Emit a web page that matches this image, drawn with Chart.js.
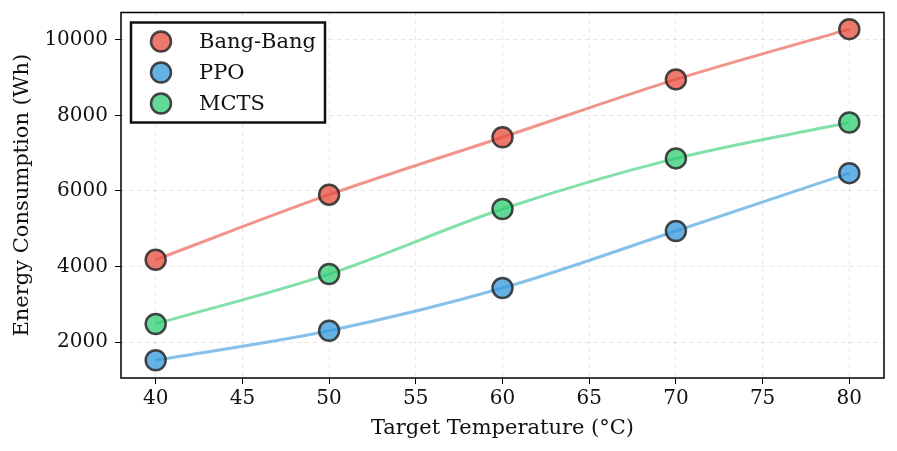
<!DOCTYPE html>
<html>
<head>
<meta charset="utf-8">
<script src="https://cdn.jsdelivr.net/npm/chart.js@4/dist/chart.umd.min.js"></script>
<style>
  html, body { margin: 0; padding: 0; background: #fff; }
  #wrap { width: 897px; height: 451px; }
</style>
</head>
<body>
<div id="wrap"><canvas id="myChart" width="897" height="451"></canvas></div>
<script>
// data
const temps = [40, 50, 60, 70, 80];
const bangBang = [4180, 5900, 7420, 8950, 10280];
const ppo = [1520, 2300, 3430, 4940, 6470];
const mcts = [2480, 3800, 5520, 6860, 7810];
const xTicks = [40, 45, 50, 55, 60, 65, 70, 75, 80];
const yTicks = [2000, 4000, 6000, 8000, 10000];

const FONT = "'DejaVu Serif', serif";

const seriesList = [
    { label: 'Bang-Bang', values: bangBang, rgb: '231, 76, 60' },
    { label: 'PPO', values: ppo, rgb: '52, 152, 219' },
    { label: 'MCTS', values: mcts, rgb: '46, 204, 113' }
];

const datasets = seriesList.map(s => ({
    label: s.label,
    data: temps.map((t, i) => ({ x: t, y: s.values[i] })),
    borderColor: 'rgba(' + s.rgb + ', 0.6)',
    borderWidth: 3,
    cubicInterpolationMode: 'monotone',
    pointRadius: 10,
    pointHoverRadius: 10,
    pointBackgroundColor: 'rgba(' + s.rgb + ', 0.75)',
    pointBorderColor: 'rgba(40, 40, 40, 0.85)',
    pointBorderWidth: 2.5,
    fill: false
}));

// frame round the plot + boxed legend inside it
const framePlugin = {
    id: 'frame',
    afterDraw(chart) {
        const ctx = chart.ctx;
        const a = chart.chartArea;
        ctx.save();
        ctx.strokeStyle = '#000';
        ctx.lineWidth = 1.5;
        ctx.strokeRect(a.left, a.top, a.right - a.left, a.bottom - a.top);

        // legend
        const bx = a.left + 10, by = a.top + 10, bw = 194, bh = 100;
        ctx.fillStyle = '#fff';
        ctx.fillRect(bx, by, bw, bh);
        ctx.lineWidth = 2.5;
        ctx.strokeStyle = '#111';
        ctx.strokeRect(bx, by, bw, bh);
        ctx.font = '21px ' + FONT;
        ctx.textBaseline = 'middle';
        seriesList.forEach((s, i) => {
            const cy = by + 19 + i * 31;
            ctx.beginPath();
            ctx.arc(bx + 30, cy, 10, 0, Math.PI * 2);
            ctx.fillStyle = 'rgba(' + s.rgb + ', 0.75)';
            ctx.fill();
            ctx.lineWidth = 2.5;
            ctx.strokeStyle = 'rgba(40, 40, 40, 0.85)';
            ctx.stroke();
            ctx.fillStyle = '#111';
            ctx.fillText(s.label, bx + 68, cy + 1);
        });
        ctx.restore();
    }
};

const config = {
    type: 'line',
    data: { datasets: datasets },
    options: {
        responsive: false,
        animation: false,
        layout: { padding: { top: 12, right: 13, left: 0, bottom: 0 } },
        plugins: {
            legend: { display: false },
            tooltip: { enabled: false }
        },
        scales: {
            x: {
                type: 'linear',
                min: 38,
                max: 82,
                afterBuildTicks: scale => { scale.ticks = xTicks.map(v => ({ value: v })); },
                afterFit: scale => {
                    scale.height = 73;
                    scale.paddingLeft = 0;
                    scale.paddingRight = 0;
                },
                grid: {
                    color: 'rgba(0,0,0,0.1)',
                    tickColor: '#000',
                    tickLength: 6
                },
                border: { display: false, dash: [4, 4] },
                ticks: {
                    color: '#111',
                    font: { family: FONT, size: 20 },
                    padding: 3,
                    maxRotation: 0,
                    callback: v => String(v)
                },
                title: {
                    display: true,
                    text: 'Target Temperature (°C)',
                    color: '#111',
                    font: { family: FONT, size: 21 },
                    padding: { top: 0, bottom: 10 }
                }
            },
            y: {
                min: 1050,
                max: 10720,
                afterBuildTicks: scale => { scale.ticks = yTicks.map(v => ({ value: v })); },
                afterFit: scale => {
                    scale.width = 121;
                    scale.paddingTop = 0;
                    scale.paddingBottom = 0;
                },
                grid: {
                    color: 'rgba(0,0,0,0.1)',
                    tickColor: '#000',
                    tickLength: 6
                },
                border: { display: false, dash: [4, 4] },
                ticks: {
                    color: '#111',
                    font: { family: FONT, size: 20 },
                    padding: 7,
                    callback: v => String(v)
                },
                title: {
                    display: true,
                    text: 'Energy Consumption (Wh)',
                    color: '#111',
                    font: { family: FONT, size: 21 },
                    padding: { top: 10, bottom: 0 }
                }
            }
        }
    },
    plugins: [framePlugin]
};

const myChart = new Chart(document.getElementById('myChart'), config);
</script>
</body>
</html>
